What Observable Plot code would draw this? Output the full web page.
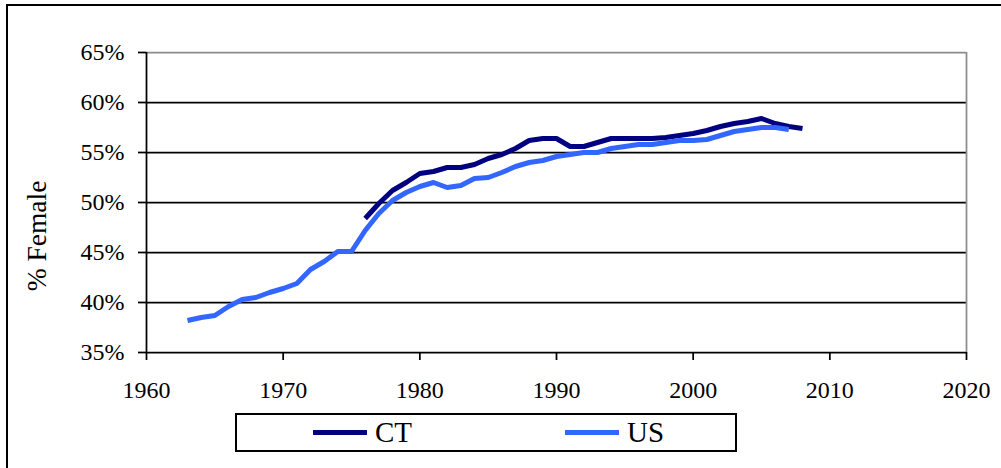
<!DOCTYPE html>
<html>
<head>
<meta charset="utf-8">
<script src="https://cdn.jsdelivr.net/npm/d3@7"></script>
<script src="https://cdn.jsdelivr.net/npm/@observablehq/plot@0.6"></script>
<style>
  html, body { margin: 0; padding: 0; background: #fff; overflow: hidden; }
  #wrap { position: relative; width: 1001px; height: 468px; font-family: "Liberation Serif", "Times New Roman", serif; }
  #outer { position: absolute; left: 6px; top: 4px; width: 1100px; height: 600px; border: 2px solid #000; box-sizing: border-box; }
  #chart { position: absolute; left: 0; top: 0; }
  #legend { position: absolute; left: 235px; top: 413px; width: 502px; height: 39px; border: 2px solid #000; box-sizing: border-box; background: #fff; }
  .item { position: absolute; top: 0; height: 35px; display: flex; align-items: center; font-size: 29px; color: #000; }
  .sw { display: inline-block; width: 54px; height: 5px; margin-right: 8px; }
</style>
</head>
<body>
<div id="wrap">
  <div id="outer"></div>
  <div id="chart"></div>
  <div id="legend"></div>
</div>
<script>
// ---- data ----
const seriesNames = ["CT", "US"];
const seriesColors = ["#000080", "#3366FF"];

const ctYears = [1976,1977,1978,1979,1980,1981,1982,1983,1984,1985,1986,1987,1988,1989,1990,1991,1992,1993,1994,1995,1996,1997,1998,1999,2000,2001,2002,2003,2004,2005,2006,2007,2008];
const ctValues = [48.4,49.9,51.2,52.0,52.9,53.1,53.5,53.5,53.8,54.4,54.8,55.4,56.2,56.4,56.4,55.6,55.6,56.0,56.4,56.4,56.4,56.4,56.5,56.7,56.9,57.2,57.6,57.9,58.1,58.4,57.9,57.6,57.4];

const usYears = [1963,1964,1965,1966,1967,1968,1969,1970,1971,1972,1973,1974,1975,1976,1977,1978,1979,1980,1981,1982,1983,1984,1985,1986,1987,1988,1989,1990,1991,1992,1993,1994,1995,1996,1997,1998,1999,2000,2001,2002,2003,2004,2005,2006,2007];
const usValues = [38.2,38.5,38.7,39.6,40.3,40.5,41.0,41.4,41.9,43.3,44.1,45.1,45.1,47.2,48.9,50.2,51.0,51.6,52.0,51.5,51.7,52.4,52.5,53.0,53.6,54.0,54.2,54.6,54.8,55.0,55.0,55.4,55.6,55.8,55.8,56.0,56.2,56.2,56.3,56.7,57.1,57.3,57.5,57.5,57.3];

const xTicks = [1960,1970,1980,1990,2000,2010,2020];
const yTicks = [35,40,45,50,55,60,65];
const gridValues = [40,45,50,55,60];
const yLabel = "% Female";

// ---- table ----
const rows = [
  ...ctYears.map((y, i) => ({series: "CT", year: y, value: ctValues[i]})),
  ...usYears.map((y, i) => ({series: "US", year: y, value: usValues[i]}))
];

const font = "Liberation Serif";

const chart = Plot.plot({
  width: 1001,
  height: 468,
  marginLeft: 146,
  marginRight: 35,
  marginTop: 52,
  marginBottom: 116,
  style: {fontFamily: font, background: "transparent", overflow: "visible"},
  x: {domain: [1960, 2020]},
  y: {domain: [35, 65]},
  color: {domain: seriesNames, range: seriesColors},
  marks: [
    Plot.ruleY(gridValues, {stroke: "#000", strokeWidth: 1.75}),
    Plot.ruleY([65], {stroke: "#8c8c8c", strokeWidth: 1.75}),
    Plot.ruleX([2020], {stroke: "#8c8c8c", strokeWidth: 1.75}),
    Plot.ruleY([35], {stroke: "#000", strokeWidth: 1.75}),
    Plot.ruleX([1960], {stroke: "#000", strokeWidth: 1.75}),
    Plot.axisY({ticks: yTicks, tickFormat: d => d + "%", tickSize: 8, tickPadding: 14, fontSize: 24, label: null, stroke: "#000", strokeWidth: 1.75, color: "#000"}),
    Plot.axisX({ticks: xTicks, tickFormat: d => String(d), tickSize: 8, tickPadding: 20, fontSize: 24, label: null, stroke: "#000", strokeWidth: 1.75, color: "#000"}),
    Plot.line(rows, {x: "year", y: "value", z: "series", stroke: "series", strokeWidth: 5, strokeLinejoin: "round", strokeLinecap: "butt"})
  ]
});

document.getElementById("chart").appendChild(chart);

// y-axis title
d3.select(chart).append("text")
  .attr("transform", "translate(46,236) rotate(-90)")
  .attr("text-anchor", "middle")
  .attr("font-family", font)
  .attr("font-size", 27.5)
  .attr("fill", "#000")
  .text(yLabel);

// legend
const legend = document.getElementById("legend");
const itemLeft = [76, 328];
seriesNames.forEach((name, i) => {
  const it = document.createElement("div");
  it.className = "item";
  it.style.left = itemLeft[i] + "px";
  const sw = document.createElement("span");
  sw.className = "sw";
  sw.style.background = seriesColors[i];
  it.appendChild(sw);
  it.appendChild(document.createTextNode(name));
  legend.appendChild(it);
});
</script>
</body>
</html>
